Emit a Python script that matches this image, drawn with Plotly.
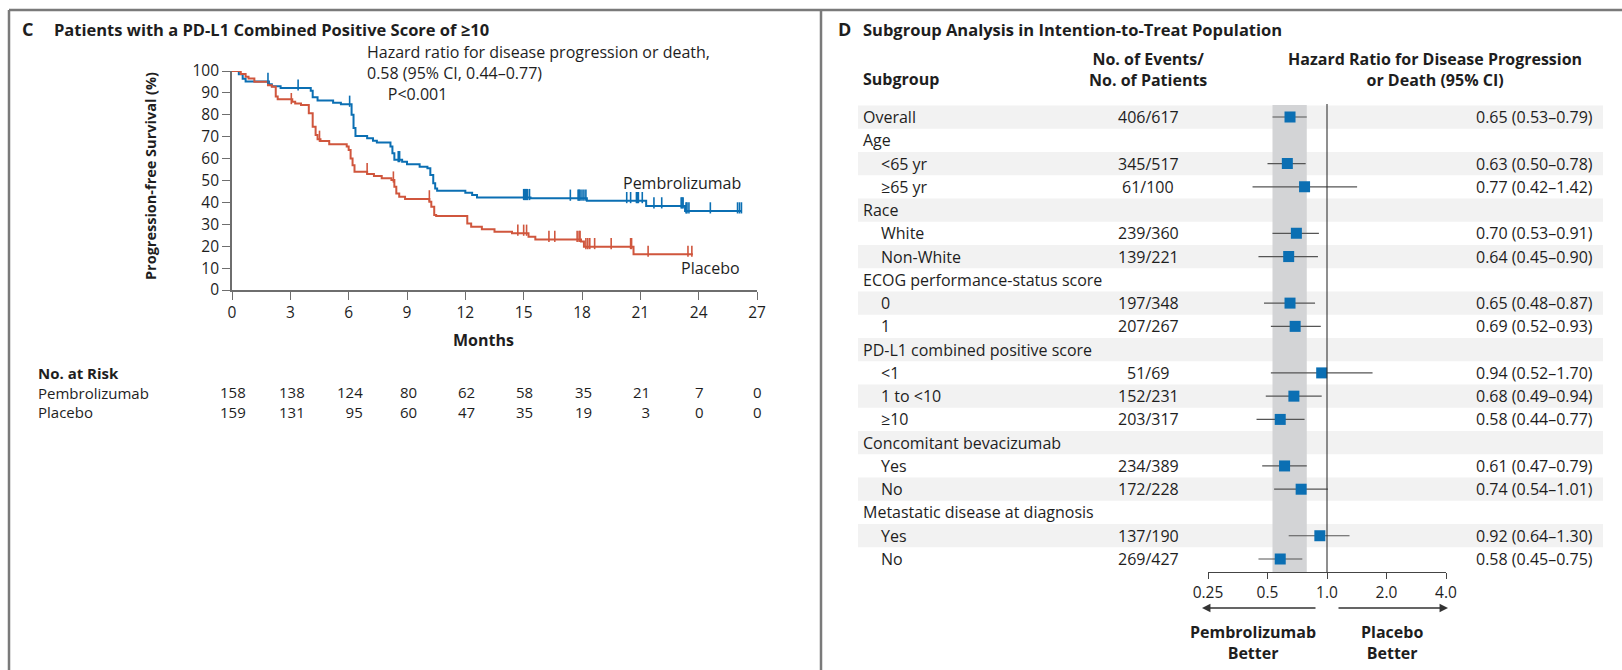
import plotly.graph_objects as go

W, H = 1622, 670
FONT = "Open Sans"
BLUE = "#0b6fb3"
RED = "#d0563d"
TXT = "#1e1e1e"
AX = "#6e6e6e"
FS = 16


def px(x):
    return x / W


def py(y):
    return 1 - y / H


# ---------------- Panel C data (Kaplan-Meier) ----------------
pem_t = [0, 0.35, 0.55, 0.7, 1.9, 2.05, 2.5, 4.05, 4.15, 4.4, 5.2, 5.6, 6.15, 6.25, 6.35,
         6.95, 7.25, 7.45, 8.15, 8.25, 8.35, 8.75, 9.0, 9.65, 10.05, 10.2, 10.35, 10.45,
         10.55, 12.0, 12.35, 12.6, 15.35, 18.25, 21.3, 23.3, 26.2]
pem_s = [100, 98.5, 96.5, 95.2, 94, 93, 92.2, 91, 88, 86.5, 85.5, 84.8, 80, 74, 70.3,
         69.3, 68.2, 67.3, 65.5, 62.4, 59.5, 58.6, 57.4, 56.3, 55.6, 52.5, 48.7, 46.4,
         45.3, 44.4, 43.4, 42.2, 41.9, 40.8, 38.4, 36.1, 36.1]
pem_cens_t = [0.1, 0.18, 1.85, 3.4, 6.05, 8.55, 8.62, 15.0, 15.05, 15.1, 15.15, 15.2, 15.3,
              17.4, 17.8, 17.85, 17.9, 18.0, 18.1, 18.2, 20.3, 20.5, 20.8, 20.85, 20.9,
              21.1, 21.7, 22.1, 23.1, 23.15, 23.2, 23.35, 23.4, 23.5, 24.6, 26.0, 26.1, 26.2]
pem_cens_s = [100, 100, 95.2, 92.2, 84.8, 59.5, 59.5, 42.2, 42.2, 42.2, 42.2, 42.2, 42.2,
              41.9, 41.9, 41.9, 41.9, 41.9, 41.9, 41.9, 40.8, 40.8, 40.8, 40.8, 40.8,
              40.8, 38.4, 38.4, 38.4, 38.4, 38.4, 36.1, 36.1, 36.1, 36.1, 36.1, 36.1, 36.1]

pla_t = [0, 0.45, 0.7, 0.85, 1.15, 1.85, 2.05, 2.25, 2.35, 3.1, 3.25, 3.55, 3.95, 4.15,
         4.3, 4.4, 4.55, 5.0, 5.9, 6.0, 6.1, 6.2, 6.3, 6.95, 7.3, 7.7, 8.2, 8.35, 8.45,
         8.6, 8.9, 10.15, 10.25, 10.4, 10.5, 12.1, 12.3, 12.85, 13.5, 14.4, 15.25, 15.6,
         17.95, 18.1, 20.65, 23.7]
pla_s = [100, 98.6, 97.4, 96.6, 95.1, 93.5, 92.8, 88.3, 87.1, 86.0, 85.2, 84.5, 80.7, 74.6,
         70.8, 68.8, 68.0, 66.5, 65.5, 63.9, 60.1, 57.0, 54.0, 53.0, 52.1, 51.0, 50.2, 47.2,
         44.1, 42.6, 41.6, 40.3, 38.0, 34.2, 33.8, 30.4, 28.9, 27.7, 26.6, 25.9, 24.3, 23.1,
         22.1, 19.8, 16.3, 16.3]
pla_cens_t = [3.05, 4.5, 6.95, 8.3, 10.15, 14.7, 15.0, 15.15, 16.3, 16.6, 17.75, 17.85,
              17.9, 18.2, 18.3, 18.4, 18.65, 19.5, 20.5, 20.55, 21.4, 23.45, 23.65]
pla_cens_s = [86.0, 68.8, 54.0, 50.2, 41.6, 25.9, 25.9, 25.9, 23.1, 23.1, 23.1, 23.1,
              23.1, 19.8, 19.8, 19.8, 19.8, 19.8, 19.8, 19.8, 16.3, 16.3, 16.3]

months_ticks = [0, 3, 6, 9, 12, 15, 18, 21, 24, 27]
risk_pem = [158, 138, 124, 80, 62, 58, 35, 21, 7, 0]
risk_pla = [159, 131, 95, 60, 47, 35, 19, 3, 0, 0]

# ---------------- Panel D data (forest plot) ----------------
sub_labels = ["Overall", "Age", "<65 yr", "≥65 yr", "Race", "White", "Non-White",
              "ECOG performance-status score", "0", "1", "PD-L1 combined positive score",
              "<1", "1 to <10", "≥10", "Concomitant bevacizumab", "Yes", "No",
              "Metastatic disease at diagnosis", "Yes", "No"]
sub_indent = [0, 0, 1, 1, 0, 1, 1, 0, 1, 1, 0, 1, 1, 1, 0, 1, 1, 0, 1, 1]
sub_events = ["406/617", "", "345/517", "61/100", "", "239/360", "139/221", "",
              "197/348", "207/267", "", "51/69", "152/231", "203/317", "", "234/389",
              "172/228", "", "137/190", "269/427"]
hr = [0.65, None, 0.63, 0.77, None, 0.70, 0.64, None, 0.65, 0.69, None, 0.94, 0.68, 0.58,
      None, 0.61, 0.74, None, 0.92, 0.58]
hr_lo = [0.53, None, 0.50, 0.42, None, 0.53, 0.45, None, 0.48, 0.52, None, 0.52, 0.49,
         0.44, None, 0.47, 0.54, None, 0.64, 0.45]
hr_hi = [0.79, None, 0.78, 1.42, None, 0.91, 0.90, None, 0.87, 0.93, None, 1.70, 0.94,
         0.77, None, 0.79, 1.01, None, 1.30, 0.75]
hr_ticks = [0.25, 0.5, 1.0, 2.0, 4.0]
hr_ticktext = ["0.25", "0.5", "1.0", "2.0", "4.0"]

fig = go.Figure()

fig.add_trace(go.Scatter(x=pem_t, y=pem_s, mode="lines", line=dict(color=BLUE, width=2, shape="hv"),
                         xaxis="x", yaxis="y", showlegend=False, hoverinfo="skip"))
fig.add_trace(go.Scatter(x=pla_t, y=pla_s, mode="lines", line=dict(color=RED, width=2, shape="hv"),
                         xaxis="x", yaxis="y", showlegend=False, hoverinfo="skip"))
fig.add_trace(go.Scatter(x=pem_cens_t, y=[s + 1.4 for s in pem_cens_s], mode="markers",
                         marker=dict(symbol="line-ns", size=8, line=dict(color=BLUE, width=1.6)),
                         xaxis="x", yaxis="y", showlegend=False, hoverinfo="skip", cliponaxis=False))
fig.add_trace(go.Scatter(x=pla_cens_t, y=[s + 1.4 for s in pla_cens_s], mode="markers",
                         marker=dict(symbol="line-ns", size=8, line=dict(color=RED, width=1.6)),
                         xaxis="x", yaxis="y", showlegend=False, hoverinfo="skip", cliponaxis=False))

n = len(sub_labels)
ci_x, ci_y = [], []
for i in range(n):
    if hr[i] is not None:
        ci_x += [hr_lo[i], hr_hi[i], None]
        ci_y += [i, i, None]
fig.add_trace(go.Scatter(x=ci_x, y=ci_y, mode="lines", line=dict(color="#555555", width=1.2),
                         xaxis="x2", yaxis="y2", showlegend=False, hoverinfo="skip"))
mx = [hr[i] for i in range(n) if hr[i] is not None]
my = [i for i in range(n) if hr[i] is not None]
fig.add_trace(go.Scatter(x=mx, y=my, mode="markers",
                         marker=dict(symbol="square", size=11, color=BLUE, line=dict(width=0)),
                         xaxis="x2", yaxis="y2", showlegend=False, hoverinfo="skip"))

shapes = []
frame_col = "#7a7a7a"
shapes.append(dict(type="line", xref="paper", yref="paper", x0=px(9), x1=1, y0=py(10), y1=py(10),
                   line=dict(color=frame_col, width=2.5)))
shapes.append(dict(type="line", xref="paper", yref="paper", x0=px(9), x1=px(9), y0=py(10), y1=0,
                   line=dict(color=frame_col, width=2.5)))
shapes.append(dict(type="line", xref="paper", yref="paper", x0=px(821), x1=px(821), y0=py(10), y1=0,
                   line=dict(color=frame_col, width=2.5)))
for i in range(0, n, 2):
    shapes.append(dict(type="rect", xref="paper", yref="y2", x0=px(858), x1=px(1603),
                       y0=i - 0.5, y1=i + 0.5, fillcolor="#f2f2f2", line=dict(width=0), layer="below"))
shapes.append(dict(type="rect", xref="x2", yref="paper", x0=hr_lo[0], x1=hr_hi[0],
                   y0=py(572), y1=py(105), fillcolor="#d3d4d6", line=dict(width=0), layer="below"))
shapes.append(dict(type="line", xref="x2", yref="paper", x0=1, x1=1, y0=py(572), y1=py(104),
                   line=dict(color="#333333", width=1.1)))

ann = []


def text(x, y, s, size=FS, bold=False, xanchor="left", color=TXT, **kw):
    if bold:
        s = "<b>" + s + "</b>"
    d = dict(xref="paper", yref="paper", x=px(x), y=py(y), text=s, showarrow=False,
             xanchor=xanchor, yanchor="middle", font=dict(family=FONT, size=size, color=color))
    d.update(kw)
    ann.append(d)


text(20, 29, "C", size=18, bold=True)
text(52, 29, "Patients with a PD-L1 Combined Positive Score of ≥10", size=16.5, bold=True)
text(365, 73, "Hazard ratio for disease progression or death,<br>0.58 (95% CI, 0.44–0.77)<br>"
     "&nbsp;&nbsp;&nbsp;&nbsp;&nbsp;P&lt;0.001", align="left")
text(743, 183, "Pembrolizumab", xanchor="right")
text(742, 268, "Placebo", xanchor="right")
ann.append(dict(xref="paper", yref="paper", x=px(150), y=py(176), text="<b>Progression-free Survival (%)</b>",
                showarrow=False, textangle=-90, xanchor="center", yanchor="middle",
                font=dict(family=FONT, size=14.5, color=TXT)))
text(483, 340, "Months", bold=True, xanchor="center")
text(36, 392.5, "<b>No. at Risk</b><br>Pembrolizumab<br>Placebo", size=15, align="left")
x0p, x1p = 232, 757
for m, a, b in zip(months_ticks, risk_pem, risk_pla):
    mpx = x0p + (x1p - x0p) * m / 27.0
    nd = max(len(str(a)), len(str(b)))
    right = mpx + 3 + nd * 4.4
    text(right, 402, "%d<br>%d" % (a, b), size=15, xanchor="right", align="right")

text(836, 29, "D", size=18, bold=True)
text(861, 29, "Subgroup Analysis in Intention-to-Treat Population", size=16.5, bold=True)
text(861, 79, "Subgroup", bold=True)
text(1148, 69, "No. of Events/<br>No. of Patients", bold=True, xanchor="center", align="center")
text(1435, 69, "Hazard Ratio for Disease Progression<br>or Death (95% CI)", bold=True,
     xanchor="center", align="center")
for i in range(n):
    lab = sub_labels[i].replace("<", "&lt;")
    ann.append(dict(xref="paper", yref="y2", x=px(879 if sub_indent[i] else 861), y=i, text=lab,
                    showarrow=False, xanchor="left", yanchor="middle",
                    font=dict(family=FONT, size=FS, color=TXT)))
    if sub_events[i]:
        ann.append(dict(xref="paper", yref="y2", x=px(1148), y=i, text=sub_events[i],
                        showarrow=False, xanchor="center", yanchor="middle",
                        font=dict(family=FONT, size=FS, color=TXT)))
    if hr[i] is not None:
        s = "%.2f (%.2f–%.2f)" % (hr[i], hr_lo[i], hr_hi[i])
        ann.append(dict(xref="paper", yref="y2", x=px(1595), y=i, text=s,
                        showarrow=False, xanchor="right", yanchor="middle",
                        font=dict(family=FONT, size=FS, color=TXT)))

ann.append(dict(xref="paper", yref="paper", x=px(1202), y=py(608), ax=115, ay=0, text="",
                showarrow=True, arrowhead=2, arrowsize=1.3, arrowwidth=1.3, arrowcolor="#333333"))
ann.append(dict(xref="paper", yref="paper", x=px(1448), y=py(608), ax=-111, ay=0, text="",
                showarrow=True, arrowhead=2, arrowsize=1.3, arrowwidth=1.3, arrowcolor="#333333"))
text(1253, 642, "Pembrolizumab<br>Better", bold=True, xanchor="center", align="center")
text(1392, 642, "Placebo<br>Better", bold=True, xanchor="center", align="center")

row_h = (559 - 117) / 19.0
y2_top = 117 - row_h / 2
y2_bot = 572
y2_range = [19 + 0.5 + (y2_bot - (559 + row_h / 2)) / row_h, -0.5]

fig.update_layout(
    width=W, height=H, autosize=False,
    margin=dict(l=0, r=0, t=0, b=0, pad=0, autoexpand=False),
    paper_bgcolor="white", plot_bgcolor="rgba(0,0,0,0)",
    font=dict(family=FONT, size=FS, color=TXT),
    shapes=shapes, annotations=ann,
    xaxis=dict(domain=[px(232), px(757)], range=[0, 27], tickvals=months_ticks,
               ticks="outside", ticklen=8, tickwidth=1.3, tickcolor=AX, automargin=False,
               showline=True, linecolor=AX, linewidth=1.6, showgrid=False, zeroline=False,
               tickfont=dict(family=FONT, size=15.5, color=TXT), anchor="y", fixedrange=True),
    yaxis=dict(domain=[py(290), py(71)], range=[0, 100], dtick=10,
               ticks="outside", ticklen=8, tickwidth=1.3, tickcolor=AX, automargin=False,
               showline=True, linecolor=AX, linewidth=1.6, showgrid=False, zeroline=False,
               tickfont=dict(family=FONT, size=15.5, color=TXT), anchor="x", fixedrange=True),
    xaxis2=dict(domain=[px(1208), px(1446)], type="log", range=[-0.60206, 0.60206],
                tickvals=hr_ticks, ticktext=hr_ticktext, ticks="outside", ticklen=6,
                tickwidth=1.2, tickcolor="#444444", showline=True, linecolor="#444444",
                linewidth=1.2, showgrid=False, zeroline=False, anchor="y2", automargin=False,
                tickfont=dict(family=FONT, size=15.5, color=TXT), fixedrange=True),
    yaxis2=dict(domain=[py(y2_bot), py(y2_top)], range=y2_range, visible=False, automargin=False,
                showgrid=False, zeroline=False, anchor="x2", fixedrange=True),
)

fig.write_html("out.html")
